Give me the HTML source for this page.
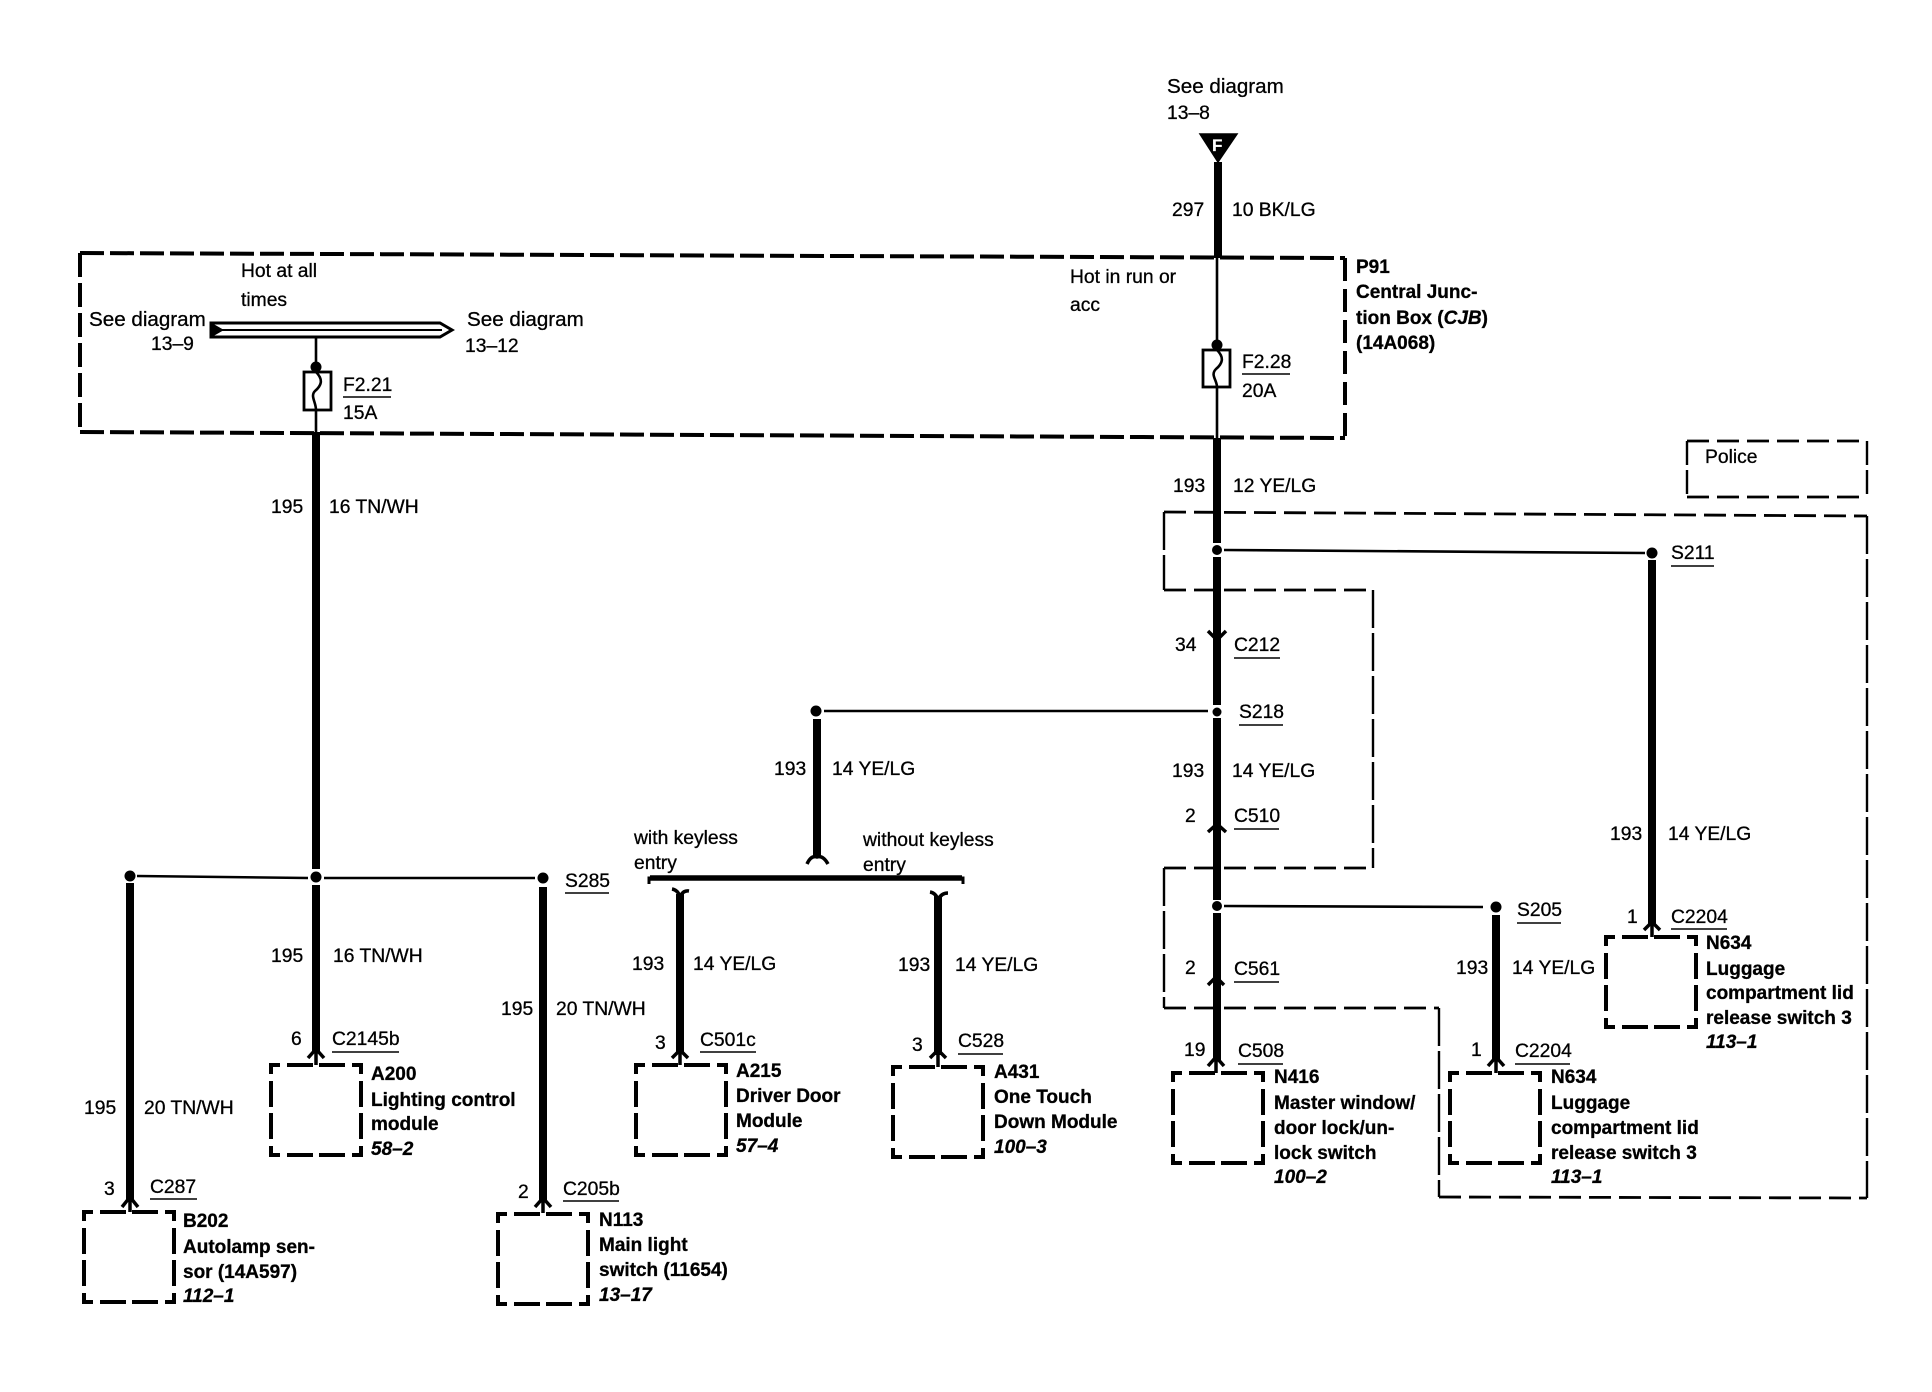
<!DOCTYPE html>
<html><head><meta charset="utf-8"><style>
html,body{margin:0;padding:0;background:#fff}
svg{display:block}
text{font-family:"Liberation Sans",Arial,sans-serif;font-size:19.3px;fill:#000;stroke:#000;stroke-width:.3px}
text.sd{font-size:20.6px}
.b text,text.b{font-weight:bold;font-size:19px}
.i{font-style:italic;font-weight:bold;font-size:19px}
.w{fill:none;stroke:#000;stroke-width:8}
.t{fill:none;stroke:#000;stroke-width:2.6}
.c{fill:none;stroke:#000;stroke-width:3.5}
.s{fill:none;stroke:#000;stroke-width:4}
.u{fill:none;stroke:#000;stroke-width:1.6}
.box{fill:none;stroke:#000;stroke-width:4;stroke-dasharray:18 7 26 6 26 7;stroke-dashoffset:9}
.ph{fill:none;stroke:#000;stroke-width:2.8;stroke-dasharray:22 8}
.pv{fill:none;stroke:#000;stroke-width:2.4;stroke-dasharray:38 5}
</style></head><body>
<svg width="1932" height="1392" viewBox="0 0 1932 1392" xmlns="http://www.w3.org/2000/svg">
<rect width="1932" height="1392" fill="#fff"/>

<!-- P91 box -->
<path d="M80 253L1345 258" class="s" style="stroke-dasharray:24 6"/>
<path d="M1345 258V438" class="s" style="stroke-dasharray:23 8"/>
<path d="M80 432L1345 438" class="s" style="stroke-dasharray:24 6"/>
<path d="M80 253V432" class="s" style="stroke-dasharray:24 6"/>

<!-- Police boxes -->
<path d="M1687 441H1867M1687 497H1867" class="ph"/>
<path d="M1687 441V497M1867 441V497" class="pv" style="stroke-dasharray:24 5"/>
<path d="M1164 512L1867 516M1164 590H1373M1164 868H1373M1164 1008H1439M1439 1197L1867 1198" class="ph"/>
<path d="M1164 512V590M1373 590V868M1164 868V1008M1439 1008V1197M1867 516V1198" class="pv"/>

<!-- power bus -->
<path d="M211 323H440L452 330L440 337H211Z" fill="#fff" stroke="#000" stroke-width="3"/>
<path d="M216 330H442" class="t" style="stroke-width:2"/>
<path d="M210 322L224 330L210 338Z" fill="#000"/>

<!-- left feed -->
<path d="M316 337V372" class="t"/>
<circle cx="316" cy="367" r="5.5"/>
<rect x="304" y="372" width="27" height="38" fill="#fff" stroke="#000" stroke-width="2.8"/>
<path d="M316 372C324 380 321 386 315 391C310 396 316 402 316 410" class="t"/>
<path d="M316 410V432" class="t"/>
<path d="M316 432V869" class="w"/>
<circle cx="316" cy="877" r="5.5"/>
<path d="M316 885V1052" class="w"/>
<path d="M137 876L308 878M324 878H535" class="t"/>
<circle cx="130" cy="876" r="5.5"/>
<circle cx="543" cy="878" r="5.5"/>
<path d="M130 883V1200" class="w"/>
<path d="M543 887V1201" class="w"/>

<!-- right feed -->
<path d="M1200 134H1237L1218 162Z" fill="#000" stroke="#000" stroke-width="1.5"/>
<text x="1212" y="151" style="fill:#fff;stroke:#fff;font-weight:bold;font-size:17px">F</text>
<path d="M1218 162V258" class="w"/>
<path d="M1217 258V350" class="t"/>
<circle cx="1217" cy="345" r="5.5"/>
<rect x="1203" y="350" width="27" height="37" fill="#fff" stroke="#000" stroke-width="2.8"/>
<path d="M1217 350C1225 358 1222 364 1216 369C1210 375 1217 380 1217 387" class="t"/>
<path d="M1217 387V438" class="t"/>
<path d="M1217 438V543M1217 557V705M1217 718V900M1217 913V1060" class="w"/>
<circle cx="1217" cy="550" r="5"/>
<circle cx="1217" cy="712" r="4.5"/>
<circle cx="1217" cy="906" r="5"/>
<path d="M1224 550L1645 553" class="t"/>
<circle cx="1652" cy="553" r="5.5"/>
<path d="M1652 560V926" class="w"/>
<path d="M1208 711H824" class="t"/>
<circle cx="816" cy="711" r="5.5"/>
<path d="M817 719V858" class="w"/>
<path d="M1224 906L1483 907" class="t"/>
<circle cx="1496" cy="907" r="5.5"/>
<path d="M1496 915V1060" class="w"/>

<!-- bracket -->
<path d="M649 884V878H963V884" fill="none" stroke="#000" stroke-width="3"/>
<path d="M650 878H962" fill="none" stroke="#000" stroke-width="5.5"/>
<path d="M680 894V1053" class="w"/>
<path d="M938 896V1055" class="w"/>

<!-- connector chevrons -->
<path d="M122 1207L130 1197L138 1207M130 1197V1212" class="c"/>
<path d="M308 1058L316 1049L324 1058M316 1049V1065" class="c"/>
<path d="M535 1207L543 1198L551 1207M543 1198V1213" class="c"/>
<path d="M672 1058L680 1050L688 1058M680 1050V1065" class="c"/>
<path d="M930 1058L938 1050L946 1058M938 1050V1067" class="c"/>
<path d="M1208 1066L1216 1057L1224 1066M1216 1057V1073" class="c"/>
<path d="M1488 1066L1496 1057L1504 1066M1496 1057V1073" class="c"/>
<path d="M1644 930L1652 922L1660 930M1652 922V937" class="c"/>
<path d="M1208 985L1216 977L1224 985" class="c"/>
<path d="M1208 832L1217 824L1226 832" class="c"/>
<path d="M1208 631L1217 640L1226 631" class="c"/>
<path d="M807 864Q811 855 817 857Q823 855 828 864" class="c"/>
<path d="M672 889Q678 890 680 897Q683 890 689 891" class="c"/>
<path d="M930 892Q936 893 938 900Q941 893 948 893" class="c"/>

<!-- component boxes -->
<rect class="box" x="84" y="1212" width="90" height="90"/>
<rect class="box" x="271" y="1065" width="90" height="90"/>
<rect class="box" x="498" y="1214" width="90" height="90"/>
<rect class="box" x="636" y="1065" width="90" height="90"/>
<rect class="box" x="893" y="1067" width="90" height="90"/>
<rect class="box" x="1173" y="1073" width="90" height="90"/>
<rect class="box" x="1450" y="1073" width="90" height="90"/>
<rect class="box" x="1606" y="937" width="90" height="90"/>

<!-- underlines -->
<path class="u" d="M343 397H391M1242 374H1290M1234 658H1280M1239 725H1283M1234 829H1279M1671 566H1714M1671 929H1727M1517 923H1561M1234 982H1279M1238 1064H1283M1515 1064H1570M565 893H609M332 1052H399M150 1199H197M563 1201H619M700 1052H756M958 1054H1003"/>

<!-- labels -->
<text x="241" y="277">Hot at all</text>
<text x="241" y="306">times</text>
<text class="sd" x="89" y="326">See diagram</text>
<text x="151" y="350">13–9</text>
<text class="sd" x="467" y="326">See diagram</text>
<text x="465" y="352">13–12</text>
<text x="343" y="391">F2.21</text>
<text x="343" y="419">15A</text>
<text x="271" y="513">195</text>
<text x="329" y="513">16 TN/WH</text>

<text class="sd" x="1167" y="93">See diagram</text>
<text x="1167" y="119">13–8</text>
<text x="1172" y="216">297</text>
<text x="1232" y="216">10 BK/LG</text>
<text x="1070" y="283">Hot in run or</text>
<text x="1070" y="311">acc</text>
<text x="1242" y="368">F2.28</text>
<text x="1242" y="397">20A</text>
<text x="1173" y="492">193</text>
<text x="1233" y="492">12 YE/LG</text>

<text x="1705" y="463">Police</text>
<text x="1175" y="651">34</text>
<text x="1234" y="651">C212</text>
<text x="1239" y="718">S218</text>
<text x="1172" y="777">193</text>
<text x="1232" y="777">14 YE/LG</text>
<text x="1185" y="822">2</text>
<text x="1234" y="822">C510</text>
<text x="1671" y="559">S211</text>
<text x="1610" y="840">193</text>
<text x="1668" y="840">14 YE/LG</text>
<text x="1627" y="923">1</text>
<text x="1671" y="923">C2204</text>
<text x="1517" y="916">S205</text>
<text x="1456" y="974">193</text>
<text x="1512" y="974">14 YE/LG</text>
<text x="1185" y="974">2</text>
<text x="1234" y="975">C561</text>
<text x="1184" y="1056">19</text>
<text x="1238" y="1057">C508</text>
<text x="1471" y="1056">1</text>
<text x="1515" y="1057">C2204</text>

<text x="565" y="887">S285</text>
<text x="271" y="962">195</text>
<text x="333" y="962">16 TN/WH</text>
<text x="501" y="1015">195</text>
<text x="556" y="1015">20 TN/WH</text>
<text x="84" y="1114">195</text>
<text x="144" y="1114">20 TN/WH</text>
<text x="291" y="1045">6</text>
<text x="332" y="1045">C2145b</text>
<text x="104" y="1195">3</text>
<text x="150" y="1193">C287</text>
<text x="518" y="1198">2</text>
<text x="563" y="1195">C205b</text>

<text x="774" y="775">193</text>
<text x="832" y="775">14 YE/LG</text>
<text x="634" y="844">with keyless</text>
<text x="634" y="869">entry</text>
<text x="863" y="846">without keyless</text>
<text x="863" y="871">entry</text>
<text x="632" y="970">193</text>
<text x="693" y="970">14 YE/LG</text>
<text x="898" y="971">193</text>
<text x="955" y="971">14 YE/LG</text>
<text x="655" y="1049">3</text>
<text x="700" y="1046">C501c</text>
<text x="912" y="1051">3</text>
<text x="958" y="1047">C528</text>

<!-- bold component text -->
<g class="b">
<text x="1356" y="273">P91</text>
<text x="1356" y="298">Central Junc-</text>
<text x="1356" y="324">tion Box (<tspan font-style="italic">CJB</tspan>)</text>
<text x="1356" y="349">(14A068)</text>

<text x="371" y="1080">A200</text>
<text x="371" y="1106">Lighting control</text>
<text x="371" y="1130">module</text>
<text x="371" y="1155" class="i">58–2</text>

<text x="183" y="1227">B202</text>
<text x="183" y="1253">Autolamp sen-</text>
<text x="183" y="1278">sor (14A597)</text>
<text x="183" y="1302" class="i">112–1</text>

<text x="599" y="1226">N113</text>
<text x="599" y="1251">Main light</text>
<text x="599" y="1276">switch (11654)</text>
<text x="599" y="1301" class="i">13–17</text>

<text x="736" y="1077">A215</text>
<text x="736" y="1102">Driver Door</text>
<text x="736" y="1127">Module</text>
<text x="736" y="1152" class="i">57–4</text>

<text x="994" y="1078">A431</text>
<text x="994" y="1103">One Touch</text>
<text x="994" y="1128">Down Module</text>
<text x="994" y="1153" class="i">100–3</text>

<text x="1274" y="1083">N416</text>
<text x="1274" y="1109">Master window/</text>
<text x="1274" y="1134">door lock/un-</text>
<text x="1274" y="1159">lock switch</text>
<text x="1274" y="1183" class="i">100–2</text>

<text x="1551" y="1083">N634</text>
<text x="1551" y="1109">Luggage</text>
<text x="1551" y="1134">compartment lid</text>
<text x="1551" y="1159">release switch 3</text>
<text x="1551" y="1183" class="i">113–1</text>

<text x="1706" y="949">N634</text>
<text x="1706" y="975">Luggage</text>
<text x="1706" y="999">compartment lid</text>
<text x="1706" y="1024">release switch 3</text>
<text x="1706" y="1048" class="i">113–1</text>
</g>
</svg>
</body></html>
